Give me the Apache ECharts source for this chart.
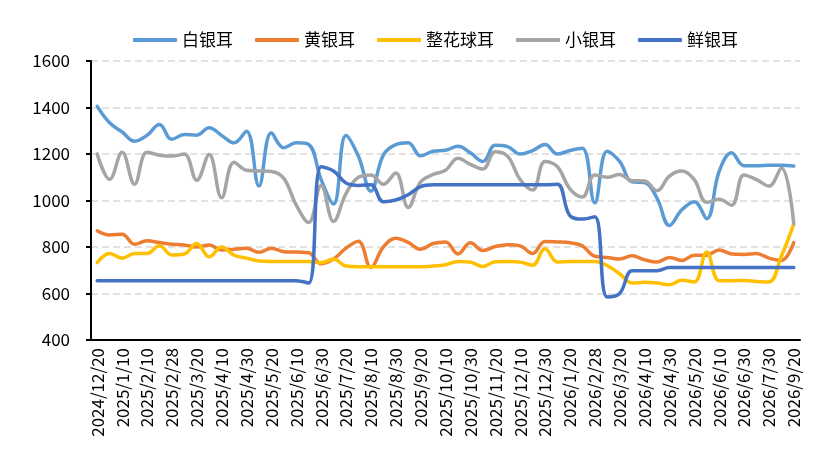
<!DOCTYPE html>
<html>
<head>
<meta charset="utf-8">
<script src="https://cdn.jsdelivr.net/npm/echarts@6/dist/echarts.min.js"></script>
<style>
html,body{margin:0;padding:0;background:#fff;}
#chart{width:815px;height:450px;}
</style>
</head>
<body>
<div id="chart"></div>
<script>
var categories = [
'2024/12/20','2024/12/31','2025/1/10','2025/1/24','2025/2/10','2025/2/20','2025/2/28','2025/3/10',
'2025/3/20','2025/3/31','2025/4/10','2025/4/20','2025/4/30','2025/5/10','2025/5/20','2025/5/31',
'2025/6/10','2025/6/20','2025/6/30','2025/7/10','2025/7/20','2025/7/31','2025/8/10','2025/8/20',
'2025/8/30','2025/9/10','2025/9/20','2025/9/30','2025/10/10','2025/10/20','2025/10/30','2025/11/10',
'2025/11/20','2025/11/30','2025/12/10','2025/12/20','2025/12/30','2026/1/10','2026/1/20','2026/2/10',
'2026/2/28','2026/3/10','2026/3/20','2026/3/31','2026/4/10','2026/4/20','2026/4/30','2026/5/10',
'2026/5/20','2026/5/31','2026/6/10','2026/6/20','2026/6/30','2026/7/15','2026/7/30','2026/8/20',
'2026/9/20'
];
var seriesNames = ['白银耳','黄银耳','整花球耳','小银耳','鲜银耳'];
var baiYinEr = [1405,1334,1295,1255,1280,1327,1263,1284,1281,1313,1280,1248,1298,1062,1291,1227,1248,1241,1090,985,1280,1190,1040,1195,1240,1248,1192,1212,1216,1233,1205,1168,1238,1232,1200,1215,1241,1200,1215,1225,990,1212,1168,1080,1077,1010,893,960,995,922,1125,1205,1150,1150,1152,1152,1148];
var huangYinEr = [870,852,855,812,827,819,812,809,800,809,787,790,795,777,795,780,778,775,728,748,795,825,712,800,838,820,790,815,822,770,818,785,802,810,805,772,824,822,818,805,760,755,748,762,745,735,755,742,765,765,787,770,768,772,752,742,819];
var zhengHuaQiuEr = [733,772,752,772,772,805,766,770,815,758,800,765,752,740,738,738,738,738,733,748,718,715,715,715,715,715,715,718,724,738,735,716,737,738,735,722,792,735,738,738,738,720,685,645,648,645,638,657,650,778,655,655,656,652,650,760,898];
var xiaoYinEr = [1200,1091,1207,1070,1207,1195,1191,1200,1087,1198,1012,1165,1130,1127,1125,1095,980,905,1065,910,1030,1100,1110,1070,1118,970,1080,1112,1130,1182,1155,1135,1210,1190,1090,1045,1168,1145,1050,1015,1110,1100,1112,1085,1084,1042,1105,1127,1090,992,1005,980,1110,1090,1062,1140,900];
var xianYinEr = [655,655,655,655,655,655,655,655,655,655,655,655,655,655,655,655,655,645,1145,1127,1075,1065,1068,995,1002,1025,1060,1068,1068,1068,1068,1068,1068,1068,1068,1068,1068,1070,935,920,930,585,600,698,698,698,712,712,712,712,712,712,712,712,712,712,712];
var yTicks = {min:400, max:1600, interval:200};

var colors = ['#5B9BD5','#ED7D31','#FFC000','#A5A5A5','#4472C4'];
var dataList = [baiYinEr, huangYinEr, zhengHuaQiuEr, xiaoYinEr, xianYinEr];
var font = '"Noto Sans CJK SC", "Noto Sans", sans-serif';

var chart = echarts.init(document.getElementById('chart'));
chart.setOption({
  animation: false,
  backgroundColor: '#fff',
  color: colors,
  legend: {
    data: seriesNames,
    left: 128,
    top: 25,
    icon: 'roundRect',
    itemWidth: 44,
    itemHeight: 4,
    itemGap: 22,
    textStyle: {fontFamily: font, fontSize: 17, color: '#000', lineHeight: 20, padding: [0,0,0,0]}
  },
  grid: {left: 91, right: 15, top: 61, bottom: 110, containLabel: false},
  xAxis: {
    type: 'category',
    data: categories,
    boundaryGap: true,
    axisLine: {show: true, lineStyle: {color: '#000', width: 2}},
    axisTick: {show: false},
    axisLabel: {interval: 1, rotate: 90, margin: 8, fontFamily: font, fontSize: 17, color: '#000'},
    splitLine: {show: false}
  },
  yAxis: {
    type: 'value',
    min: yTicks.min, max: yTicks.max, interval: yTicks.interval,
    axisLine: {show: true, lineStyle: {color: '#000', width: 2}},
    axisTick: {show: true, length: 5, lineStyle: {color: '#000', width: 2}},
    axisLabel: {margin: 21, fontFamily: font, fontSize: 17, color: '#000', formatter: function(v){ return String(v); }},
    splitLine: {show: true, lineStyle: {color: '#D9D9D9', width: 1.5, type: [7,4]}}
  },
  series: seriesNames.map(function(n, i){
    return {
      name: n, type: 'line', data: dataList[i], smooth: 0.4,
      showSymbol: false, symbol: 'none',
      lineStyle: {width: 3.5, color: colors[i], cap: 'round', join: 'round'},
      itemStyle: {color: colors[i]}
    };
  })
});
</script>
</body>
</html>
